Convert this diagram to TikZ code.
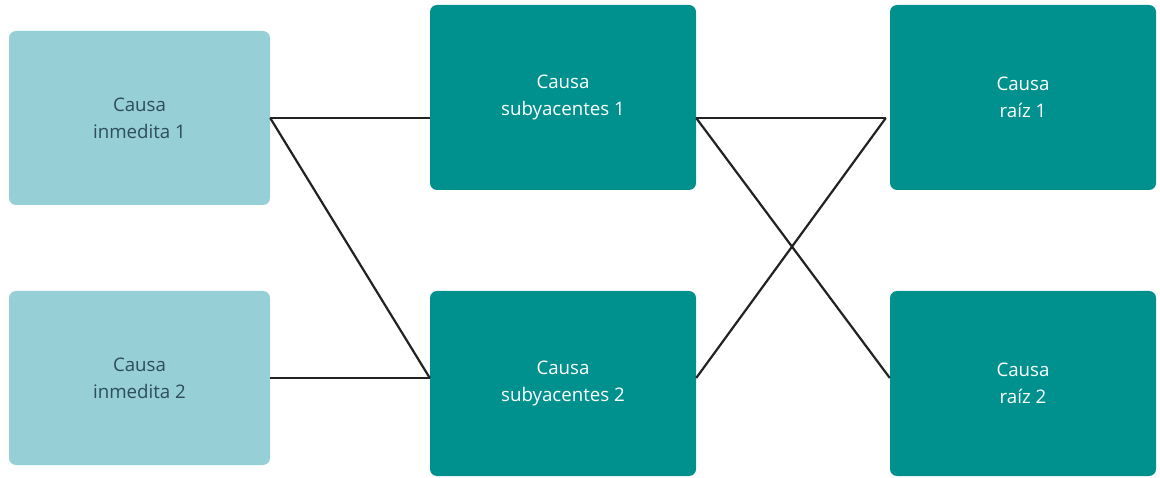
\documentclass[tikz,border=0pt]{standalone}
\usepackage{fontspec}
\setmainfont{Open Sans}
\definecolor{lightcause}{HTML}{96CFD6}
\definecolor{darkcause}{HTML}{00918E}
\definecolor{lighttext}{HTML}{2E4D5C}
\definecolor{linkcol}{HTML}{222222}
\begin{document}
\begin{tikzpicture}[x=1pt,y=-1pt,
  causebox/.style={rounded corners=7pt,minimum width=261pt,minimum height=174pt,
    align=center,inner sep=0pt,font=\fontsize{18.7}{27}\selectfont},
  nearbox/.style={causebox,fill=lightcause,text=lighttext},
  deepbox/.style={causebox,fill=darkcause,text=white,minimum width=266pt,minimum height=185pt},
  link/.style={draw=linkcol,line width=2.2pt}]
\useasboundingbox (0,0) rectangle (1160,478);
\node[nearbox] (inm1) at (139.5,118) {Causa\\inmedita 1};
\node[nearbox] (inm2) at (139.5,378) {Causa\\inmedita 2};
\node[deepbox] (sub1) at (563,97.5) {Causa\\subyacentes 1};
\node[deepbox] (sub2) at (563,383.5) {Causa\\subyacentes 2};
\node[deepbox] (raiz1) at (1023,97.5) {Causa\\raíz 1};
\node[deepbox] (raiz2) at (1023,383.5) {Causa\\raíz 2};
\draw[link] (inm1.east) -- (sub1.west |- inm1.east);
\draw[link] (inm1.east) -- (sub2.west |- inm2.east);
\draw[link] (inm2.east) -- (sub2.west |- inm2.east);
\draw[link] (sub1.east |- inm1.east) -- ([xshift=-4pt]raiz1.west |- inm1.east);
\draw[link] (sub2.east |- inm2.east) -- ([xshift=-4pt]raiz1.west |- inm1.east);
\draw[link] (sub1.east |- inm1.east) -- (raiz2.west |- inm2.east);
\end{tikzpicture}
\end{document}
